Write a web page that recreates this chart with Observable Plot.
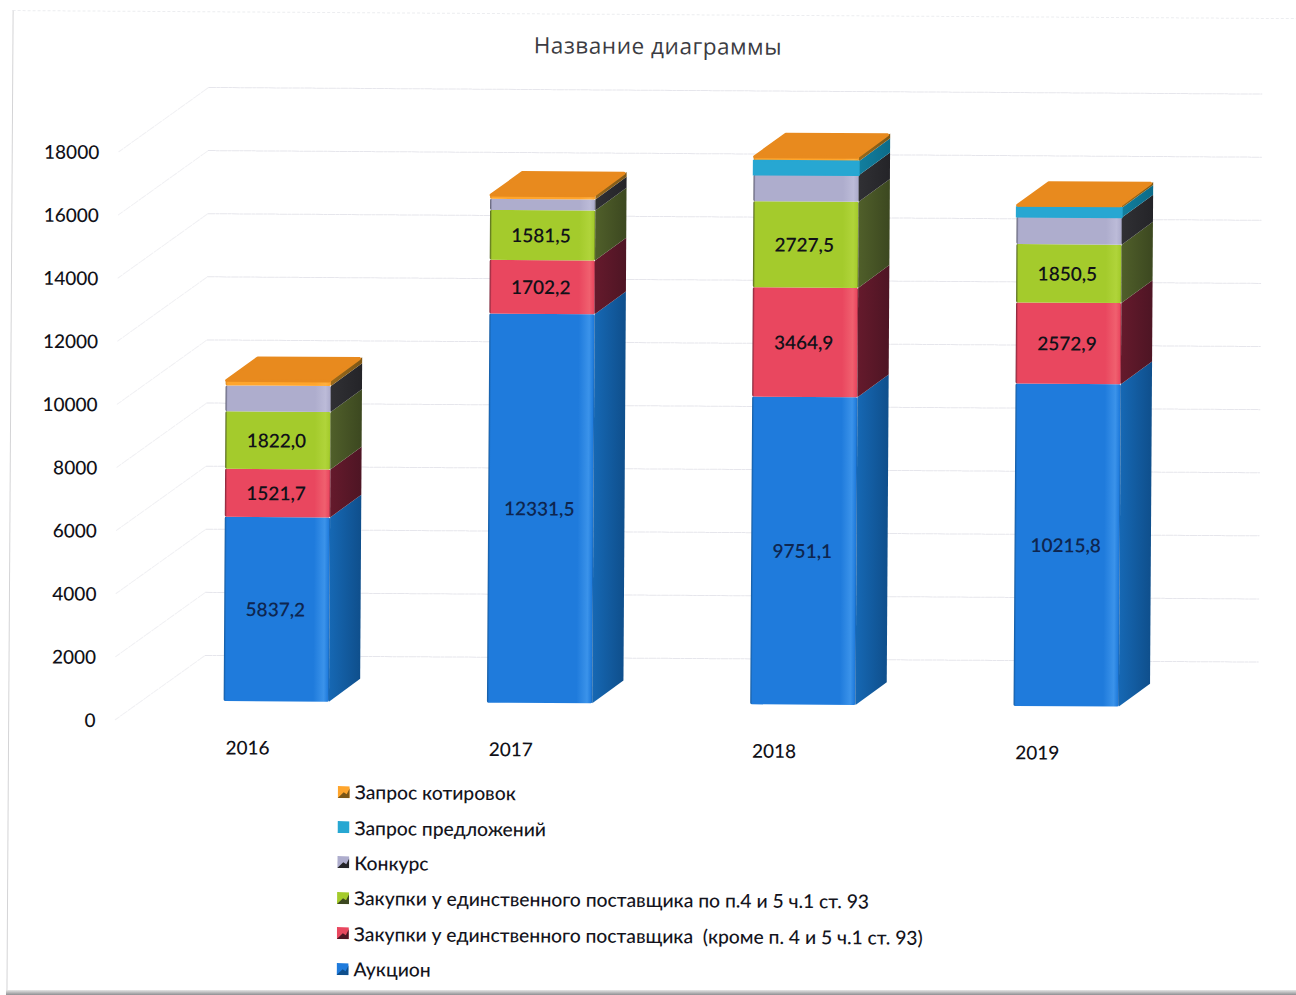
<!DOCTYPE html>
<html lang="ru"><head><meta charset="utf-8">
<script src="https://cdn.jsdelivr.net/npm/d3@7"></script>
<script src="https://cdn.jsdelivr.net/npm/@observablehq/plot@0.6"></script>
<style>
html,body{margin:0;padding:0;background:#fff;overflow:hidden}
#sheet{position:relative;width:1296px;height:995px;transform-origin:640px 430px;transform:rotate(0.36deg);font-family:Lato,"Open Sans",sans-serif;color:#1a1a24}
#title{height:70px;text-align:center;padding-left:15px;box-sizing:border-box;font:22.5px/91px "Open Sans",sans-serif;letter-spacing:.55px;color:#3c3c42}
#legend{padding:6px 0 0 340px}
.row{height:35.4px;display:flex;align-items:center;font-size:19.3px;font-weight:500;color:#14141c;white-space:pre}
.row svg{margin-right:5px;flex:none}
#edge{position:absolute;left:10px;top:14px;width:1400px;height:985px;border-left:1px solid #d4d4d6;border-top:1px dashed #ecedf0;pointer-events:none}
#floor{position:fixed;left:6px;right:0;top:990px;height:5px;background:linear-gradient(#e6e6e6,#8f8f92)}
figure svg,svg{display:block}
</style></head>
<body><div id="sheet">
<div id="edge"></div>
<div id="title">Название диаграммы</div>
<div id="chart"></div>
<div id="legend"></div>
</div>
<div id="floor"></div>
<script>
const years = [2016, 2017, 2018, 2019];
const ticks = [0, 2000, 4000, 6000, 8000, 10000, 12000, 14000, 16000, 18000];
const auction = [5837.2, 12331.5, 9751.1, 10215.8];
const singleOther = [1521.7, 1702.2, 3464.9, 2572.9];
const singleP45 = [1822.0, 1581.5, 2727.5, 1850.5];
const konkurs = [820, 350, 840, 860];
const proposals = [0, 0, 450, 310];
const quotes = [190, 150, 150, 90];
const names = ["Аукцион", "Закупки у единственного поставщика  (кроме п. 4 и 5 ч.1 ст. 93)", "Закупки у единственного поставщика по п.4 и 5 ч.1 ст. 93", "Конкурс", "Запрос предложений", "Запрос котировок"];
const stackedValues = [auction, singleOther, singleP45, konkurs, proposals, quotes];
const labelled = [true, true, true, false, false, false];
// face colours per series: front mid, front light, front dark edge, side light, side dark
const palette = [
  ["#1f7bdc", "#3b93ea", "#155a9e", "#1668b4", "#0f4f8c"],
  ["#e9475f", "#f0606f", "#7a2236", "#651a2c", "#4e1524"],
  ["#a4cb2c", "#b0d43a", "#4f5f1e", "#505f2a", "#3c4820"],
  ["#aeadcd", "#bcbbd8", "#55556a", "#303034", "#242428"],
  ["#27a7d2", "#2fb1da", "#1d87aa", "#127f9f", "#0c6b88"],
  ["#ffa52c", "#ffb040", "#d98a20", "#9a6a1c", "#7d5716"]
];

const halfWidth = 0.2, depthX = 0.118, depthY = 729; // bar half width, 3-D depth in scale units
const wallFrontX = 2015.387, wallBackX = 2015.7265, wallRightX = 2019.727;
const wallFrontY = -600, wallBackY = 1455;

const fronts = [], sides = [], labels = [];
years.forEach((year, i) => {
  let base = 0;
  stackedValues.forEach((vals, s) => {
    const v = vals[i];
    if (v > 0) {
      fronts.push({x1: year - halfWidth, x2: year + halfWidth, y1: base, y2: base + v, s});
      const key = `${year}-${s}`, xr = year + halfWidth;
      sides.push({x: xr, y1: base, y2: base + v, key, s});
      sides.push({x: xr + depthX, y1: base + depthY, y2: base + v + depthY, key, s});
      if (labelled[s]) labels.push({x: year, y: base + v / 2, t: v.toFixed(1).replace(".", ","), s});
    }
    base += v;
  });
});
const tops = years.flatMap((year, i) => {
  const h = d3.sum(stackedValues, vals => vals[i]);
  return [
    {x1: year - halfWidth + 0.004, x2: year + halfWidth - 0.008, y: h - 30, key: year},
    {x1: year - halfWidth + depthX + 0.004, x2: year + halfWidth + depthX - 0.01, y: h + depthY - 40, key: year}
  ];
});
const diagonals = ticks.flatMap(t => [
  {x: wallFrontX, y: t + wallFrontY, t},
  {x: wallBackX, y: t + wallBackY, t}
]);
const backLines = ticks.flatMap(t => [
  {x: wallBackX, y: t + wallBackY, t},
  {x: wallRightX, y: t + wallBackY, t}
]);

function gradients() {
  const defs = d3.create("svg:defs");
  palette.forEach((p, s) => {
    const f = defs.append("linearGradient").attr("id", `front${s}`);
    [[0, p[2]], [0.02, p[0]], [0.85, p[0]], [0.95, p[1]], [0.99, p[0]], [1, p[2]]].forEach(([o, c]) => f.append("stop").attr("offset", o).attr("stop-color", c));
    const g = defs.append("linearGradient").attr("id", `side${s}`);
    [[0, p[3]], [1, p[4]]].forEach(([o, c]) => g.append("stop").attr("offset", o).attr("stop-color", c));
  });
  return defs.node();
}

const plot = Plot.plot({
  width: 1296, height: 700,
  marginLeft: 100, marginRight: 0, marginTop: 0, marginBottom: 30,
  style: {background: "transparent", fontFamily: "Lato, 'Open Sans', sans-serif"},
  x: {type: "linear", domain: [2016, 2019], range: [278, 1067.9]},
  y: {type: "linear", domain: [0, 18000], range: [633.6, 65.6]},
  marks: [
    gradients,
    Plot.line(diagonals, {x: "x", y: "y", z: "t", stroke: "#f0f0f3", strokeWidth: 1, strokeDasharray: "5 1.5 2 1"}),
    Plot.line(backLines, {x: "x", y: "y", z: "t", stroke: "#e6e6ec", strokeWidth: 1, strokeDasharray: "7 1 3 1"}),
    Plot.area(sides, {x1: "x", y1: "y1", y2: "y2", z: "key", fill: d => `url(#side${d.s})`}),
    Plot.rect(fronts, {x1: "x1", x2: "x2", y1: "y1", y2: "y2", rx: 1.5, fill: d => `url(#front${d.s})`}),
    Plot.rect(fronts.filter(d => d.s === 4), {x1: "x1", x2: "x2", y1: "y1", y2: "y2", fill: palette[4][0], stroke: palette[4][0], strokeWidth: 1.5}),
    Plot.area(tops, {x1: "x1", x2: "x2", y1: "y", y2: "y", z: "key", fill: "#e88a1e", stroke: "#e88a1e", strokeWidth: 3, strokeLinejoin: "round"}),
    Plot.text(labels, {x: "x", y: "y", text: "t", dx: -2, dy: 0.5, fontSize: 19, fontWeight: 600, fill: d => d.s === 0 ? "#0e2650" : "#111118"}),
    Plot.axisY({ticks, tickFormat: "d", tickSize: 0, tickPadding: 3, dy: 20.2, fontSize: 19, fontWeight: 500, color: "#111118", label: null}),
    Plot.axisX({ticks: years, tickFormat: "d", tickSize: 0, tickPadding: 3, dx: -29, fontSize: 19, fontWeight: 500, color: "#111118", label: null})
  ]
});
document.getElementById("chart").append(plot);

const legend = d3.select("#legend");
[5, 4, 3, 2, 1, 0].forEach(s => {
  const row = legend.append("div").attr("class", "row");
  const sw = row.append("svg").attr("width", 12).attr("height", 12);
  sw.append("rect").attr("width", 12).attr("height", 12).attr("fill", palette[s][0]);
  if (s !== 4) sw.append("path").attr("d", "M0 12L6 6L9 8L12 2V12Z").attr("fill", palette[s][4]);
  row.append("span").text(names[s]);
});
</script>
</body></html>
